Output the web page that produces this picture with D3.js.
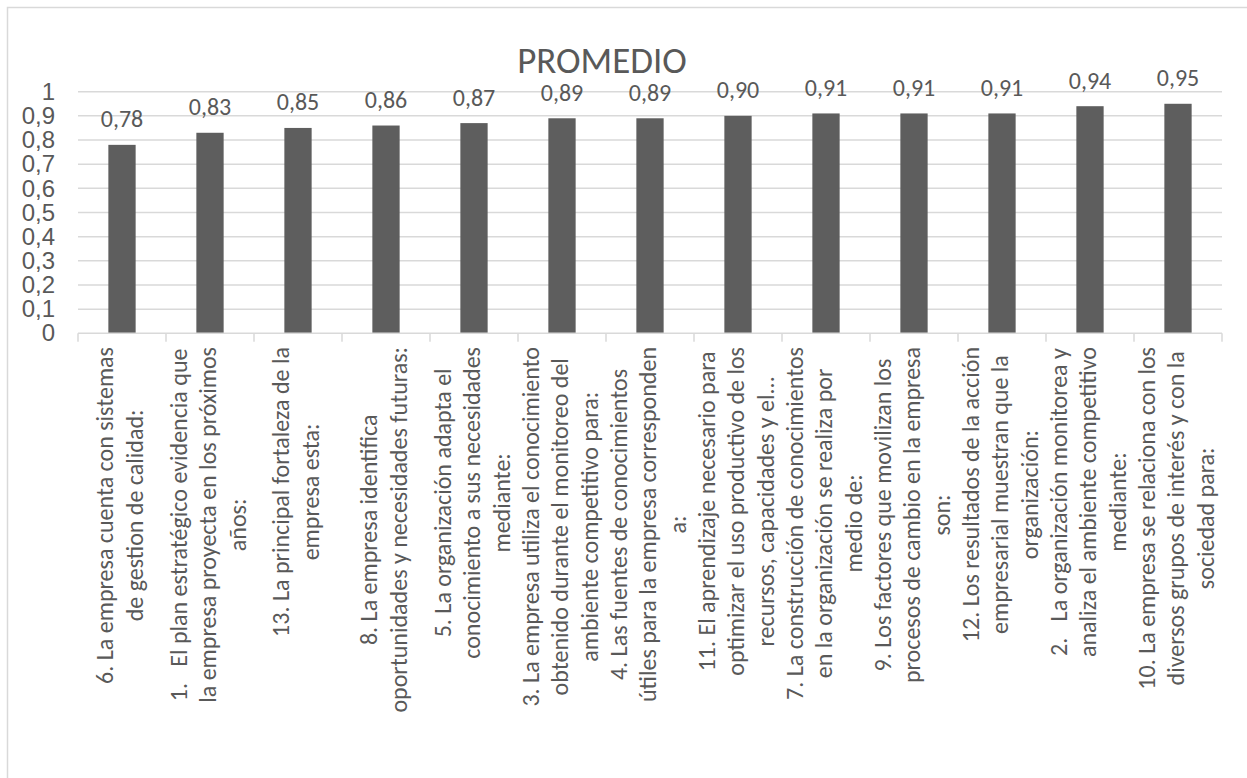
<!DOCTYPE html>
<html>
<head>
<meta charset="utf-8">
<script src="https://cdn.jsdelivr.net/npm/d3@7"></script>
<style>
  html, body { margin: 0; padding: 0; background: #ffffff; }
  svg { display: block; font-family: "Carlito", "Open Sans", "Noto Sans", sans-serif; }
</style>
</head>
<body>
<svg id="chart" width="1247" height="778"></svg>
<script>
// Average score per survey item, sorted ascending
const title = "PROMEDIO";

const categoryLines = [
  ["6. La empresa cuenta con sistemas", "de gestion de calidad:"],
  ["1.   El plan estratégico evidencia que", "la empresa proyecta en los próximos", "años:"],
  ["13. La principal fortaleza de la", "empresa esta:"],
  ["8. La empresa identifica", "oportunidades y necesidades futuras:"],
  ["5. La organización adapta el", "conocimiento a sus necesidades", "mediante:"],
  ["3. La empresa utiliza el conocimiento", "obtenido durante el monitoreo del", "ambiente competitivo para:"],
  ["4. Las fuentes de conocimientos", "útiles para la empresa corresponden", "a:"],
  ["11. El aprendizaje necesario para", "optimizar el uso productivo de los", "recursos, capacidades y el..."],
  ["7. La construcción de conocimientos", "en la organización se realiza por", "medio de:"],
  ["9. Los factores que movilizan los", "procesos de cambio en la empresa", "son:"],
  ["12. Los resultados de la acción", "empresarial muestran que la", "organización:"],
  ["2.   La organización monitorea y", "analiza el ambiente competitivo", "mediante:"],
  ["10. La empresa se relaciona con los", "diversos grupos de interés y con la", "sociedad para:"]
];

const values = [0.78, 0.83, 0.85, 0.86, 0.87, 0.89, 0.89, 0.90, 0.91, 0.91, 0.91, 0.94, 0.95];

const yTicks = [0, 0.1, 0.2, 0.3, 0.4, 0.5, 0.6, 0.7, 0.8, 0.9, 1];

const ids = categoryLines.map((_, i) => i);

const svg = d3.select("#chart");
const textColor = "#595959";
const gridColor = "#d9d9d9";
const barColor = "#5e5e5e";
const fontSize = "24px";

const plot = { left: 78, right: 1222, top: 91.7, bottom: 333.3 };

const x = d3.scaleBand()
  .domain(ids)
  .range([plot.left, plot.right])
  .paddingInner(0.69)
  .paddingOuter(0.345);

const y = d3.scaleLinear()
  .domain([0, 1])
  .range([plot.bottom, plot.top]);

const fmtTick = v => (v === 0 || v === 1) ? String(v) : d3.format(".1f")(v).replace(".", ",");
const fmtVal = v => d3.format(".2f")(v).replace(".", ",");

// chart frame
svg.append("rect")
  .attr("x", 7.5).attr("y", 7.5)
  .attr("width", 1300).attr("height", 900)
  .attr("fill", "none")
  .attr("stroke", gridColor)
  .attr("stroke-width", 1.5);

// title
svg.append("text")
  .attr("x", 602)
  .attr("y", 73)
  .attr("text-anchor", "middle")
  .attr("fill", textColor)
  .style("font-size", "37px")
  .text(title);

// horizontal gridlines
svg.append("g")
  .selectAll("line")
  .data(yTicks.filter(t => t > 0))
  .join("line")
  .attr("x1", plot.left).attr("x2", plot.right)
  .attr("y1", d => y(d)).attr("y2", d => y(d))
  .attr("stroke", gridColor)
  .attr("stroke-width", 1.5);

// y axis labels
const yAxis = d3.axisLeft(y).tickValues(yTicks).tickFormat(fmtTick).tickSize(0).tickPadding(0);
const yg = svg.append("g")
  .attr("transform", `translate(55,0)`)
  .call(yAxis);
yg.select(".domain").remove();
yg.selectAll("text")
  .attr("fill", textColor)
  .attr("dy", "0.32em")
  .style("font-size", fontSize)
  .style("font-family", null);

// bars
svg.append("g")
  .selectAll("rect")
  .data(values)
  .join("rect")
  .attr("x", (d, i) => x(i))
  .attr("width", x.bandwidth())
  .attr("y", d => y(d))
  .attr("height", d => y(0) - y(d))
  .attr("fill", barColor);

// value labels
svg.append("g")
  .selectAll("text")
  .data(values)
  .join("text")
  .attr("x", (d, i) => x(i) + x.bandwidth() / 2)
  .attr("y", d => y(d) - 17.5)
  .attr("text-anchor", "middle")
  .attr("fill", textColor)
  .style("font-size", fontSize)
  .text(d => fmtVal(d));

// category axis line and boundary ticks
svg.append("line")
  .attr("x1", plot.left).attr("x2", plot.right)
  .attr("y1", plot.bottom).attr("y2", plot.bottom)
  .attr("stroke", gridColor)
  .attr("stroke-width", 1.5);

const step = x.step();
const boundaries = d3.range(ids.length + 1).map(i => plot.left + i * step);
svg.append("g")
  .selectAll("line")
  .data(boundaries)
  .join("line")
  .attr("x1", d => d).attr("x2", d => d)
  .attr("y1", plot.bottom).attr("y2", plot.bottom + 8.5)
  .attr("stroke", gridColor)
  .attr("stroke-width", 1.5);

// rotated, multi-line category labels
const lineH = 29.5;
const labelTop = 347;
const labels = svg.append("g")
  .selectAll("g")
  .data(categoryLines)
  .join("g")
  .attr("transform", (d, i) => `translate(${x(i) + x.bandwidth() / 2},${labelTop}) rotate(-90)`);

labels.each(function(lines) {
  const g = d3.select(this);
  const n = lines.length;
  const texts = g.selectAll("text")
    .data(lines)
    .join("text")
    .attr("xml:space", "preserve")
    .style("white-space", "pre")
    .attr("text-anchor", "middle")
    .attr("fill", textColor)
    .style("font-size", fontSize)
    .attr("y", (d, k) => (k - (n - 1) / 2) * lineH)
    .attr("dy", "0.25em")
    .text(d => d);
  const maxLen = d3.max(texts.nodes(), t => t.getComputedTextLength());
  texts.attr("x", -maxLen / 2);
});
</script>
</body>
</html>
